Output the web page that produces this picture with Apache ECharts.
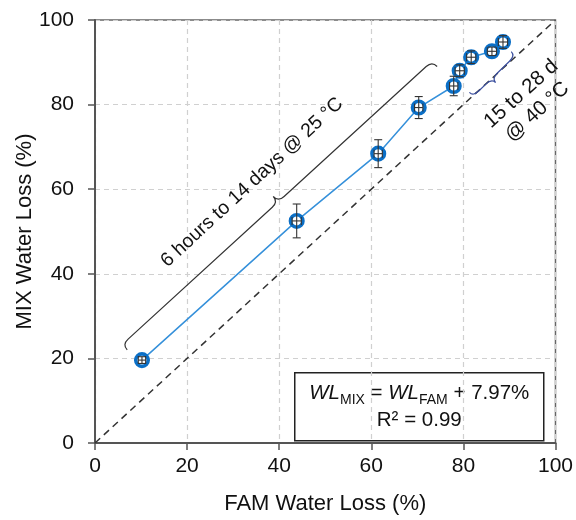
<!DOCTYPE html>
<html>
<head>
<meta charset="utf-8">
<script src="https://cdn.jsdelivr.net/npm/echarts@6/dist/echarts.min.js"></script>
<style>
  html, body { margin: 0; padding: 0; background: #fff; }
  #chart { width: 576px; height: 520px; }
</style>
</head>
<body>
<div id="chart"></div>
<script>
// values
const famLoss = [10.2, 43.8, 61.5, 70.3, 77.9, 79.2, 81.7, 86.2, 88.6]
const mixLoss = [19.6, 52.5, 68.4, 79.3, 84.4, 88.0, 91.2, 92.6, 94.8]
const famErr = [0.8, 1.0, 0.9, 0.9, 0.9, 1.0, 1.0, 1.0, 1.0]
const mixErr = [0.8, 4.0, 3.3, 2.6, 2.3, 1.4, 1.5, 1.0, 1.5]
const axisTicks = [0, 20, 40, 60, 80, 100]
const identityLine = [[0, 0], [100, 100]]

// brace annotations: [start, end, tip] in data units
const braces = [
  { pts: [[7.0, 22.0], [74.3, 89.0], [38.7, 58.3]], color: '#333', label: '6 hours to 14 days @ 25 °C', at: [34.1, 61.6], angle: 42.7, size: 19.5 },
  { pts: [[81.3, 82.9], [90.4, 92.5], [87.0, 85.2]], color: '#3b4f9e', label: '15 to 28 d\n@ 40 °C', at: [94.3, 80.4], angle: 42, size: 20.5 }
]

const points = famLoss.map((x, i) => [x, mixLoss[i]])
const errData = famLoss.map((x, i) => [x, mixLoss[i], famErr[i], mixErr[i]])

const chart = echarts.init(document.getElementById('chart'))

function renderError(params, api) {
  const x = api.value(0), y = api.value(1), ex = api.value(2), ey = api.value(3)
  const top = api.coord([x, y + ey]), bot = api.coord([x, y - ey])
  const lft = api.coord([x - ex, y]), rgt = api.coord([x + ex, y])
  const cap = 4
  const style = { stroke: '#333', lineWidth: 1.1, fill: null }
  return {
    type: 'group',
    children: [
      { type: 'line', shape: { x1: top[0], y1: top[1], x2: bot[0], y2: bot[1] }, style },
      { type: 'line', shape: { x1: top[0] - cap, y1: top[1], x2: top[0] + cap, y2: top[1] }, style },
      { type: 'line', shape: { x1: bot[0] - cap, y1: bot[1], x2: bot[0] + cap, y2: bot[1] }, style },
      { type: 'line', shape: { x1: lft[0], y1: lft[1], x2: rgt[0], y2: rgt[1] }, style },
      { type: 'line', shape: { x1: lft[0], y1: lft[1] - cap, x2: lft[0], y2: lft[1] + cap }, style },
      { type: 'line', shape: { x1: rgt[0], y1: rgt[1] - cap, x2: rgt[0], y2: rgt[1] + cap }, style }
    ]
  }
}

function renderBrace(params, api) {
  const b = braces[params.dataIndex]
  const a = api.coord(b.pts[0]), c = api.coord(b.pts[1]), t = api.coord(b.pts[2])
  const dx = c[0] - a[0], dy = c[1] - a[1]
  const len = Math.hypot(dx, dy)
  const u = [dx / len, dy / len]
  let n = [-u[1], u[0]]
  const proj = (t[0] - a[0]) * u[0] + (t[1] - a[1]) * u[1]
  let depth = (t[0] - a[0]) * n[0] + (t[1] - a[1]) * n[1]
  if (depth < 0) { n = [-n[0], -n[1]]; depth = -depth }
  const h = depth / 2
  const r = Math.min(8, len / 6)
  const P = (s, k) => [a[0] + u[0] * s + n[0] * k, a[1] + u[1] * s + n[1] * k]
  const f = p => p[0].toFixed(1) + ' ' + p[1].toFixed(1)
  const d = [
    'M', f(P(0, 0)),
    'Q', f(P(0, h)), f(P(r, h)),
    'L', f(P(proj - r, h)),
    'Q', f(P(proj, h)), f(P(proj, depth)),
    'Q', f(P(proj, h)), f(P(proj + r, h)),
    'L', f(P(len - r, h)),
    'Q', f(P(len, h)), f(P(len, 0))
  ].join(' ')
  const tp = api.coord(b.at)
  return {
    type: 'group',
    children: [
      { type: 'path', shape: { pathData: d }, style: { stroke: b.color, lineWidth: 1.2, fill: null } },
      {
        type: 'text', x: tp[0], y: tp[1], rotation: b.angle * Math.PI / 180,
        style: { text: b.label, font: b.size + 'px "Liberation Sans", Arial, sans-serif', fill: '#111', align: 'center', verticalAlign: 'middle', lineHeight: 24 }
      }
    ]
  }
}

const axisCommon = {
  type: 'value', min: 0, max: 100, interval: 20,
  axisLine: { show: true, onZero: false, lineStyle: { color: '#555', width: 2 } },
  axisTick: { show: true, inside: false, length: 7, lineStyle: { color: '#555', width: 1.5 } },
  splitLine: { show: true, lineStyle: { color: '#d0d0d0', type: [5, 4], width: 1.2 } },
  nameLocation: 'middle',
  nameMoveOverlap: false,
  nameTextStyle: { fontSize: 22, color: '#111', fontFamily: 'Liberation Sans' }
}

chart.setOption({
  animation: false,
  textStyle: { fontFamily: 'Liberation Sans' },
  grid: { left: 95, right: 20, top: 20, bottom: 71, show: true, borderColor: '#666', borderWidth: 1.5 },
  xAxis: Object.assign({}, axisCommon, {
    name: 'FAM Water Loss (%)', nameGap: 50,
    axisLabel: { fontSize: 21, color: '#111', margin: 13, formatter: v => axisTicks.includes(v) ? String(v) : '' }
  }),
  yAxis: Object.assign({}, axisCommon, {
    name: 'MIX Water Loss (%)', nameGap: 59,
    axisLabel: { fontSize: 21, color: '#111', margin: 21, formatter: v => axisTicks.includes(v) ? String(v) : '' }
  }),
  series: [
    {
      type: 'line', data: identityLine, symbol: 'none', z: 2,
      lineStyle: { color: '#333', width: 1.5, type: [7, 5] }
    },
    {
      type: 'custom', data: braces.map((b, i) => [i]), renderItem: renderBrace, z: 3, silent: true
    },
    {
      type: 'line', data: points, symbol: 'none', z: 4,
      lineStyle: { color: '#3590da', width: 1.5 }
    },
    {
      type: 'scatter', data: points, symbol: 'circle', symbolSize: 12.5, z: 5,
      itemStyle: { color: '#fff', borderColor: '#0b6fc6', borderWidth: 3.6, opacity: 1 }
    },
    {
      type: 'custom', data: errData, renderItem: renderError, z: 6, silent: true
    }
  ],
  graphic: [
    {
      type: 'group', left: 294, top: 372,
      children: [
        { type: 'rect', shape: { x: 0, y: 0, width: 249, height: 68 }, style: { fill: '#fff', stroke: '#222', lineWidth: 1.5 } },
        {
          type: 'text', x: 124.5, y: 7,
          style: {
            text: '{i|WL}{s|MIX}{n| = }{i|WL}{s|FAM}{n| + 7.97%}\n{n|R² = 0.99}',
            align: 'center', verticalAlign: 'top', fill: '#111',
            rich: {
              n: { fontSize: 20.5, lineHeight: 27, fontFamily: 'Liberation Sans', fill: '#111' },
              i: { fontSize: 20.5, lineHeight: 27, fontStyle: 'italic', fontFamily: 'Liberation Sans', fill: '#111' },
              s: { fontSize: 14, lineHeight: 18, verticalAlign: 'bottom', fontFamily: 'Liberation Sans', fill: '#111' }
            }
          }
        }
      ]
    }
  ]
})
</script>
</body>
</html>
